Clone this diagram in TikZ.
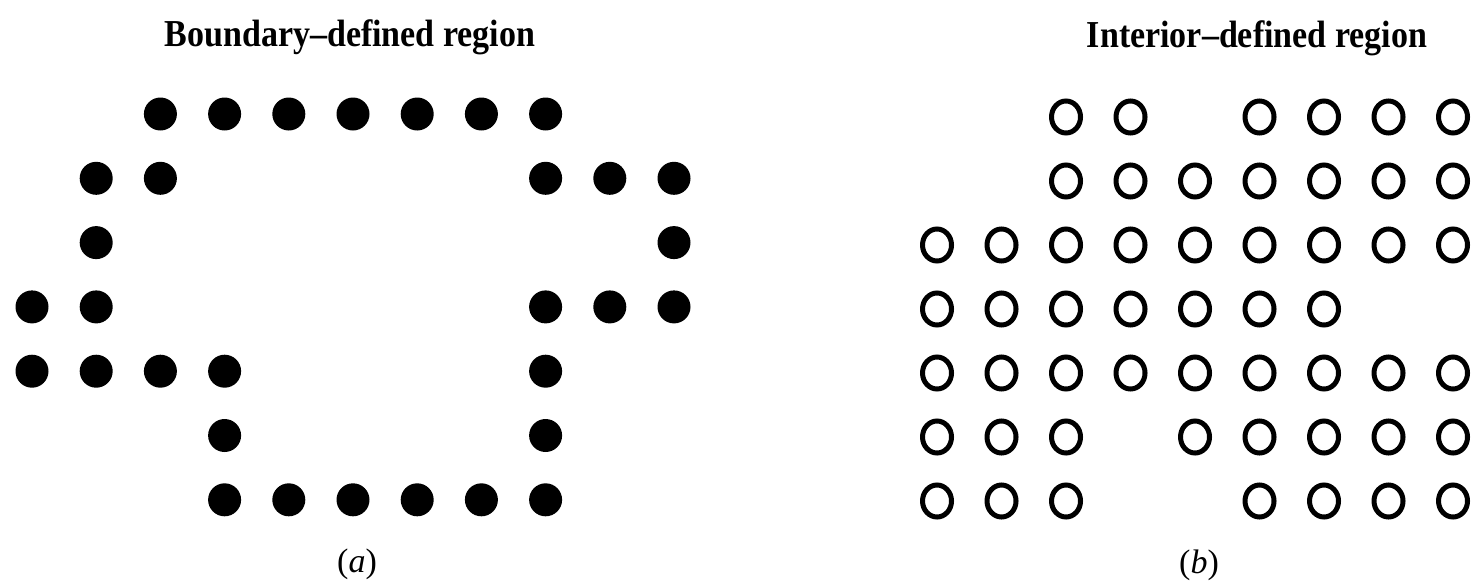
\documentclass[tikz,border=0pt]{standalone}
\usepackage{fontspec}
\usepackage{graphicx}
\setmainfont{Liberation Serif}
\usetikzlibrary{shapes.geometric}
\begin{document}
\begin{tikzpicture}[x=1pt,y=-1pt,
  filleddot/.style={circle,fill=black,draw=none,minimum size=33pt,inner sep=0pt},
  opendot/.style={ellipse,draw=black,line width=5pt,minimum width=29pt,minimum height=32pt,inner sep=0pt},
  titletext/.style={font=\fontsize{34}{38}\selectfont\bfseries,anchor=base,inner sep=0pt},
  sublabel/.style={font=\fontsize{34}{38}\selectfont,inner sep=0pt}]
\useasboundingbox (0,0) rectangle (1474,582);
% titles
\node[titletext] (ltitle) at (350,46) {\scalebox{1}[1.12]{Boundary–defined region}};
\node[titletext] (rtitle) at (1257,47) {\scalebox{1}[1.12]{Interior–defined region}};
% (a) boundary-defined region
\foreach \r/\cols in {1/{3,4,5,6,7,8,9},2/{2,3,9,10,11},3/{2,11},4/{1,2,9,10,11},5/{1,2,3,4,9},6/{4,9},7/{4,5,6,7,8,9}}{
  \foreach \c in \cols {
    \node[filleddot] (L-\r-\c) at ({32+64.2*(\c-1)},{114+64.3*(\r-1)}) {};
  }
}
% (b) interior-defined region
\foreach \r/\cols in {1/{3,4,6,7,8,9},2/{3,4,5,6,7,8,9},3/{1,2,3,4,5,6,7,8,9},4/{1,2,3,4,5,6,7},5/{1,2,3,4,5,6,7,8,9},6/{1,2,3,5,6,7,8,9},7/{1,2,3,6,7,8,9}}{
  \foreach \c in \cols {
    \node[opendot] (R-\r-\c) at ({937+64.5*(\c-1)},{117+64*(\r-1)}) {};
  }
}
% sub-labels
\node[sublabel] (la) at (357,564) {(\textit{a})};
\node[sublabel] (lb) at (1199,565) {(\textit{b})};
\end{tikzpicture}
\end{document}
